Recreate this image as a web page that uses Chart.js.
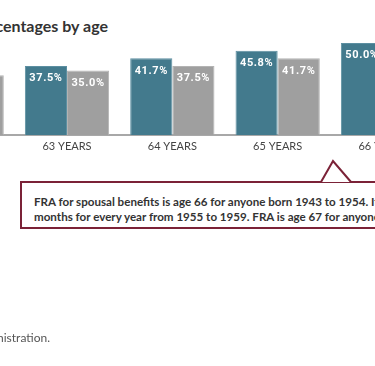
<!DOCTYPE html>
<html>
<head>
<meta charset="utf-8">
<script src="https://cdn.jsdelivr.net/npm/chart.js@4"></script>
<style>
  html, body { margin: 0; padding: 0; background: #fff; }
  body { width: 375px; height: 366px; position: relative; overflow: hidden; font-family: Lato, "Open Sans", sans-serif; }
  #title { position: absolute; right: 267px; top: 16px; white-space: nowrap; font-size: 16px; font-weight: bold; color: #333; }
  #chart-wrap { position: absolute; left: -91px; top: 0; width: 632px; height: 160px; }
  #note { position: absolute; left: 20px; top: 181px; width: 560px; height: 48px; border: 2px solid #7b2237; color: #333; font-size: 11.6px; font-weight: bold; line-height: 15px; padding: 11px 0 0 12px; box-sizing: border-box; white-space: nowrap; }
  #caret { position: absolute; left: 0; top: 0; }
  #source { position: absolute; right: 325px; top: 330px; white-space: nowrap; font-size: 12px; color: #555; }
</style>
</head>
<body>
<div id="title">Spousal benefit percentages by age</div>
<div id="chart-wrap"><canvas id="ages-chart" width="632" height="160"></canvas></div>
<div id="note">FRA for spousal benefits is age 66 for anyone born 1943 to 1954. It rises by two<br>months for every year from 1955 to 1959. FRA is age 67 for anyone born in 1960 or later.</div>
<svg id="caret" width="375" height="366">
  <polygon points="321,182 333,161 351,182" fill="#fff"/>
  <polyline points="321,182 333,161 351,182" fill="none" stroke="#7b2237" stroke-width="2"/>
</svg>
<div id="source">Source: Social Security Administration.</div>
<script>
const ages = ['62 YEARS', '63 YEARS', '64 YEARS', '65 YEARS', '66 YEARS', '67 YEARS'];
const fra66 = [35.0, 37.5, 41.7, 45.8, 50.0, 50.0];
const fra67 = [32.5, 35.0, 37.5, 41.7, 45.8, 50.0];

// white value labels just under the top of each bar
const barLabels = {
    id: 'barLabels',
    afterDatasetsDraw(chart) {
        const ctx = chart.ctx;
        ctx.save();
        ctx.fillStyle = '#fff';
        ctx.font = 'bold 11px Roboto, sans-serif';
        ctx.letterSpacing = '0.6px';
        ctx.textAlign = 'center';
        ctx.textBaseline = 'top';
        chart.data.datasets.forEach((ds, i) => {
            chart.getDatasetMeta(i).data.forEach((bar, j) => {
                ctx.fillText(ds.data[j].toFixed(1) + '%', bar.x, bar.y + 7);
            });
        });
        ctx.restore();
    }
};

const ctx = document.getElementById('ages-chart').getContext('2d');
const agesChart = new Chart(ctx, {
    type: 'bar',
    data: {
        labels: ages,
        datasets: [{
            label: 'FRA of 66',
            data: fra66,
            backgroundColor: '#437a8d',
            borderColor: '#5c8fa1',
            borderWidth: 1
        }, {
            label: 'FRA of 67',
            data: fra67,
            backgroundColor: '#9f9f9f',
            borderColor: '#b3b3b3',
            borderWidth: 1
        }]
    },
    options: {
        responsive: false,
        animation: false,
        layout: { padding: { top: 43, left: 0, right: 0, bottom: 0 } },
        datasets: { bar: { categoryPercentage: 0.8, barPercentage: 1 } },
        plugins: { legend: { display: false }, tooltip: { enabled: false } },
        scales: {
            x: {
                grid: { display: false, drawTicks: false },
                border: { color: '#a8a8a8', width: 2 },
                ticks: { color: '#444', font: { family: 'Lato', size: 11 }, padding: 5 },
                afterFit: s => { s.height = 25; }
            },
            y: {
                display: false,
                min: 0,
                max: 50
            }
        }
    },
    plugins: [barLabels]
});
</script>
</body>
</html>
